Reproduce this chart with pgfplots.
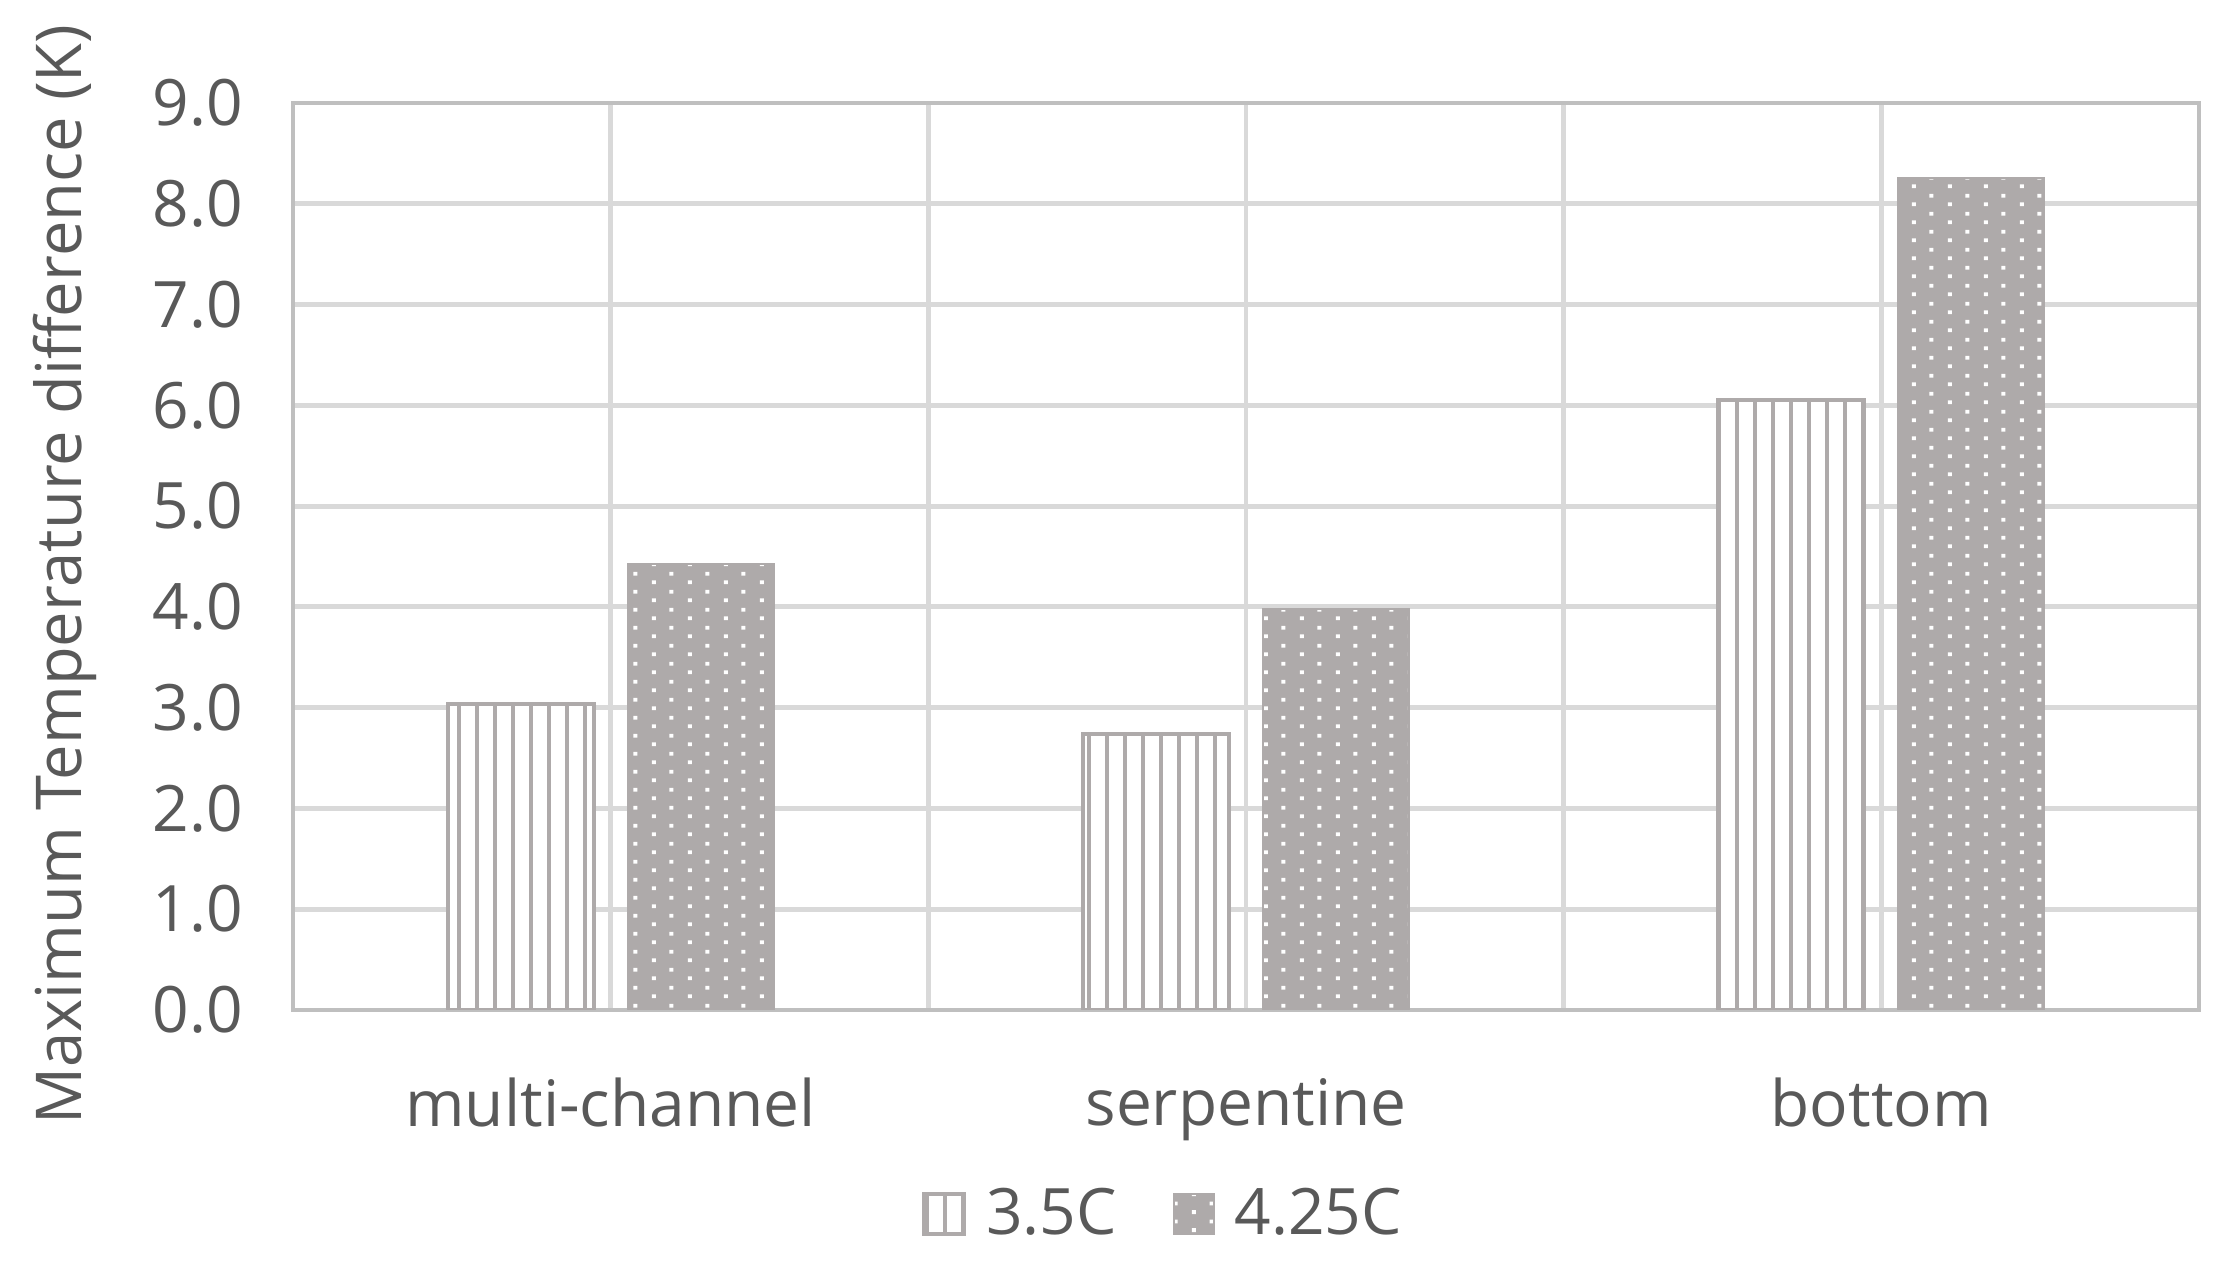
\documentclass[border=0pt]{standalone}
\usepackage{fontspec}
\setmainfont{Open Sans}
\usepackage{pgfplots}
\pgfplotsset{compat=1.18}
\usetikzlibrary{patterns}

\definecolor{bargray}{HTML}{AEAAAA}
\definecolor{gridgray}{HTML}{D9D9D9}
\definecolor{axisgray}{HTML}{BFBFBF}
\definecolor{txtgray}{HTML}{595959}

% vertical stripes
\pgfdeclarepatternformonly{vstripes}{\pgfqpoint{-1pt}{-1pt}}{\pgfqpoint{5.5pt}{5.5pt}}{\pgfqpoint{4.5pt}{4.5pt}}{%
  \pgfsetlinewidth{0.9pt}%
  \pgfpathmoveto{\pgfqpoint{2.25pt}{-1pt}}%
  \pgfpathlineto{\pgfqpoint{2.25pt}{5.5pt}}%
  \pgfusepath{stroke}}
% staggered small dots
\pgfdeclarepatternformonly{sdots}{\pgfpointorigin}{\pgfqpoint{9pt}{4.5pt}}{\pgfqpoint{9pt}{4.5pt}}{%
  \pgfpathrectangle{\pgfqpoint{1pt}{0.5pt}}{\pgfqpoint{1pt}{1pt}}%
  \pgfpathrectangle{\pgfqpoint{5.5pt}{2.75pt}}{\pgfqpoint{1pt}{1pt}}%
  \pgfusepath{fill}}

\begin{document}
\begin{tikzpicture}
\useasboundingbox (-73.25pt,-65pt) rectangle (482.25pt,252.5pt);
\begin{axis}[
  scale only axis,
  width=476.5pt, height=226.75pt,
  ybar=8.5pt, bar width=36.5pt,
  xmin=-0.5, xmax=2.5,
  ymin=0, ymax=9,
  xtick={0,1,2},
  xticklabels={multi-channel,serpentine,bottom},
  minor xtick={-0.5,0.5,1.5,2.5},
  ytick={0,1,...,9},
  major tick length=0pt, minor tick length=0pt,
  xmajorgrids, xminorgrids, ymajorgrids,
  grid style={gridgray, line width=1.2pt},
  minor grid style={gridgray, line width=1.2pt},
  axis line style={axisgray, line width=1.1pt},
  /pgf/number format/assume math mode=true,
  yticklabel style={/pgf/number format/fixed, /pgf/number format/fixed zerofill, /pgf/number format/precision=1, xshift=-9pt},
  xticklabel style={yshift=-13.5pt},
  tick label style={font=\fontsize{16}{19}\selectfont, text=txtgray},
  ylabel={Maximum Temperature difference (K)},
  ylabel style={font=\fontsize{15.8}{18}\selectfont, text=txtgray, yshift=7pt},
  every axis y label/.append style={at={(ticklabel cs:0.48)}},
  legend columns=2,
  legend style={at={(0.458,-0.225)}, anchor=center, draw=none, fill=none,
    font=\fontsize{16}{19}\selectfont, text=txtgray,
    /tikz/every even column/.append style={column sep=12pt},
    /tikz/every odd column/.append style={column sep=3pt}},
  legend image code/.code={\draw[#1] (0pt,-5pt) rectangle (10pt,5pt);},
]
\addplot[draw=bargray, line width=1pt, fill=white,
  postaction={pattern=vstripes, pattern color=bargray}]
  coordinates {(0,3.04) (1,2.74) (2,6.05)};
\addplot[draw=bargray, line width=0.5pt, fill=bargray,
  postaction={pattern=sdots, pattern color=white}]
  coordinates {(0,4.43) (1,3.98) (2,8.26)};
\legend{3.5C,4.25C}
\end{axis}
\end{tikzpicture}
\end{document}
